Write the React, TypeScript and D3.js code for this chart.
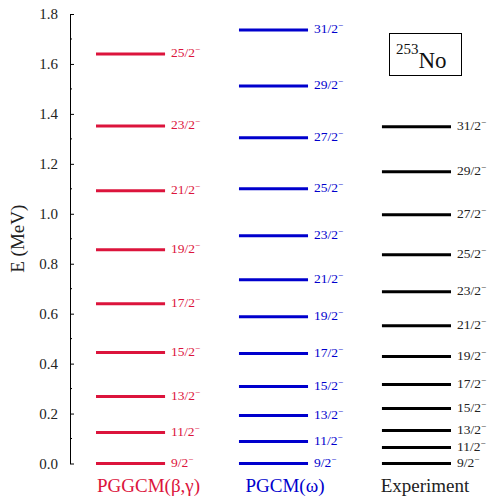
import React, { useRef, useEffect } from "react";
import * as d3 from "d3";

// level energies in MeV
const pggcmLevels = [0.0, 0.124, 0.268, 0.444, 0.64, 0.856, 1.092, 1.352, 1.64];
const pgcmLevels = [0.0, 0.088, 0.192, 0.308, 0.44, 0.588, 0.736, 0.912, 1.1, 1.304, 1.512, 1.736];
const expLevels = [0.0, 0.064, 0.132, 0.22, 0.316, 0.428, 0.552, 0.688, 0.836, 0.996, 1.168, 1.348];
const spinLabels = ["9", "11", "13", "15", "17", "19", "21", "23", "25", "27", "29", "31"];
const columnNames = ["PGGCM(β,γ)", "PGCM(ω)", "Experiment"];

const App = () => {
  const ref = useRef<SVGSVGElement>(null);

  useEffect(() => {
    const W = 493, H = 499;
    const font = "'Liberation Serif', 'DejaVu Serif', serif";
    const svg = d3.select(ref.current).attr("width", W).attr("height", H)
      .attr("font-family", font);
    svg.selectAll("*").remove();

    const y = d3.scaleLinear().domain([0, 1.8]).range([463.5, 14]);
    const x = d3.scaleBand().domain(columnNames).range([96, 451]).paddingInner(0.517);

    // axis, ticks pointing inward
    const axisG = svg.append("g").attr("transform", "translate(70,0)");
    axisG.call(
      d3.axisLeft(y).tickValues(d3.range(0, 1.81, 0.2)).tickSizeInner(-4).tickSizeOuter(0).tickPadding(12)
        .tickFormat(d3.format(".1f"))
    );
    axisG.attr("font-family", font).attr("font-size", null);
    axisG.selectAll("text").attr("font-size", 15).attr("fill", "#222");
    axisG.select(".domain").attr("stroke", "#000");
    axisG.selectAll(".minor").data(d3.range(0.1, 1.8, 0.2)).enter().append("line")
      .attr("class", "minor").attr("x1", 0).attr("x2", 2)
      .attr("y1", (d) => y(d)).attr("y2", (d) => y(d)).attr("stroke", "#000");

    svg.append("text")
      .attr("transform", `translate(24,${y(0.9)}) rotate(-90)`)
      .attr("text-anchor", "middle").attr("font-size", 19).attr("fill", "#222")
      .text("E (MeV)");

    const series = [
      { name: columnNames[0], levels: pggcmLevels, color: "#dc143c", shift: 18 },
      { name: columnNames[1], levels: pgcmLevels, color: "#0000cd", shift: 11.5 },
      { name: columnNames[2], levels: expLevels, color: "#000000", shift: 8.5 },
    ];

    series.forEach((s) => {
      const x0 = x(s.name)!;
      const x1 = x0 + x.bandwidth();
      const txt = s.color === "#000000" ? "#222" : s.color;
      const g = svg.append("g");
      g.selectAll("line").data(s.levels).enter().append("line")
        .attr("x1", x0).attr("x2", x1)
        .attr("y1", (d) => y(d)).attr("y2", (d) => y(d))
        .attr("stroke", s.color).attr("stroke-width", 3);
      const lab = g.selectAll("text").data(s.levels).enter().append("text")
        .attr("x", x1 + 6).attr("y", (d) => y(d) + 3.5)
        .attr("font-size", 13.5)
        .attr("fill", txt);
      lab.append("tspan").text((d, i) => `${spinLabels[i]}/2`);
      lab.append("tspan").attr("dy", -5).attr("font-size", 9).text("−");

      svg.append("text")
        .attr("x", (x0 + x1) / 2 + s.shift).attr("y", 492)
        .attr("text-anchor", "middle").attr("font-size", 19)
        .attr("fill", txt)
        .text(s.name);
    });

    // nucleus box
    svg.append("rect").attr("x", 389.5).attr("y", 33.5).attr("width", 72).attr("height", 42)
      .attr("fill", "none").attr("stroke", "#000").attr("stroke-width", 1);
    const nt = svg.append("text").attr("x", 396).attr("y", 68).attr("fill", "#111");
    nt.append("tspan").attr("font-size", 15).attr("dy", -14).text("253");
    nt.append("tspan").attr("font-size", 23).attr("dy", 14).text("No");
  }, []);

  return (
    <svg ref={ref} style={{ position: "absolute", left: 0, top: 0 }}></svg>
  );
};

export default App;
